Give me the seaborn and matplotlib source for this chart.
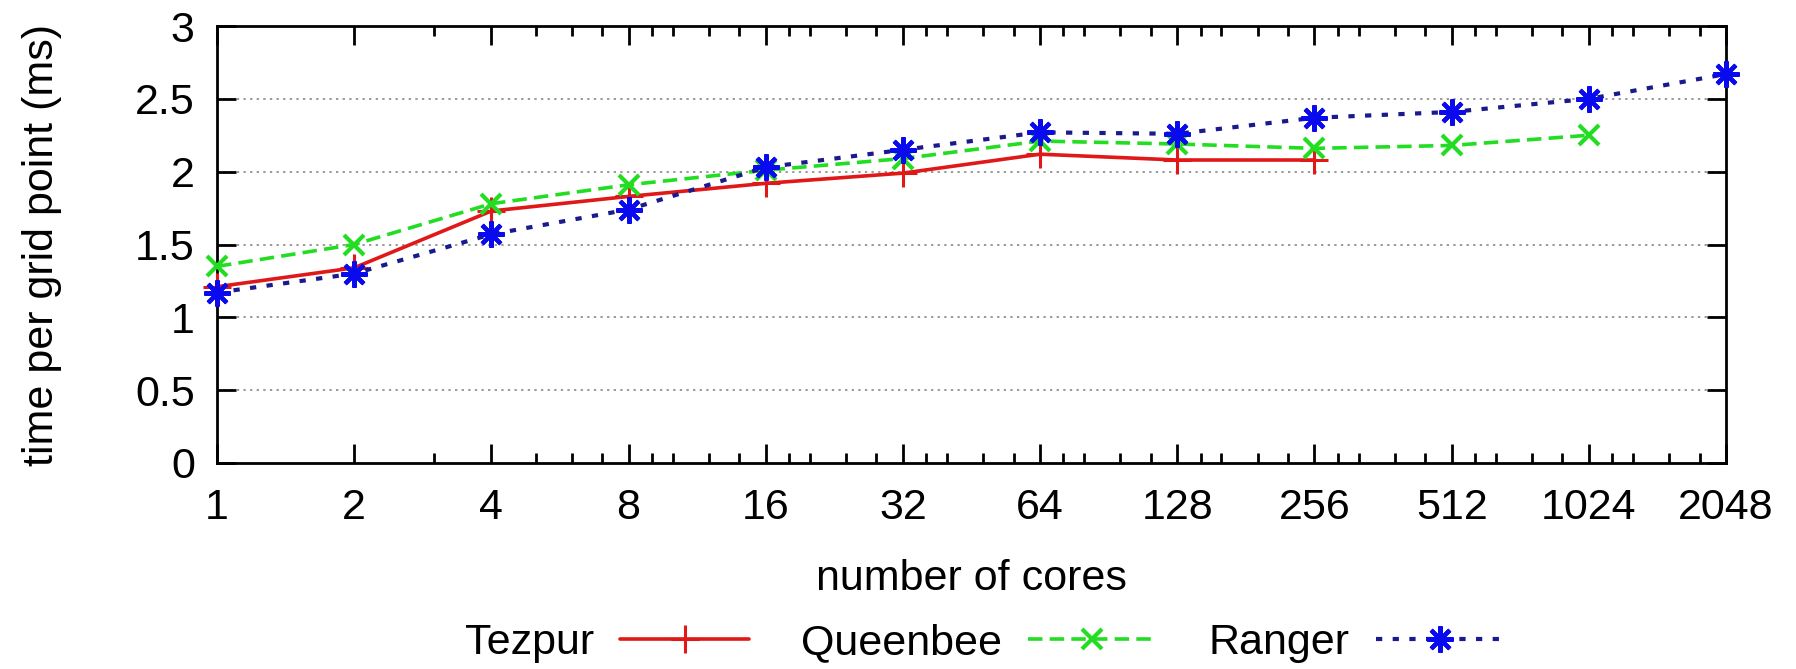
import numpy as np
import pandas as pd
import seaborn as sns
import matplotlib
matplotlib.use("Agg")
from matplotlib import pyplot as plt
from matplotlib.ticker import FixedLocator, FixedFormatter, NullFormatter

# values
tezpur_cores = [1, 2, 4, 8, 16, 32, 64, 128, 256]
tezpur_time = [1.21, 1.34, 1.73, 1.83, 1.92, 1.99, 2.12, 2.08, 2.08]

queenbee_cores = [1, 2, 4, 8, 16, 32, 64, 128, 256, 512, 1024]
queenbee_time = [1.35, 1.50, 1.78, 1.91, 2.01, 2.09, 2.21, 2.19, 2.16, 2.18, 2.25]

ranger_cores = [1, 2, 4, 8, 16, 32, 64, 128, 256, 512, 1024, 2048]
ranger_time = [1.17, 1.30, 1.57, 1.74, 2.03, 2.15, 2.27, 2.26, 2.37, 2.41, 2.50, 2.67]

x_ticks = [1, 2, 4, 8, 16, 32, 64, 128, 256, 512, 1024, 2048]
y_ticks = [0, 0.5, 1, 1.5, 2, 2.5, 3]
y_ticklabels = ["0", "0.5", "1", "1.5", "2", "2.5", "3"]

sns.set_style("ticks", {"text.color": "black", "axes.labelcolor": "black",
                        "xtick.color": "black", "ytick.color": "black"})
plt.rcParams['font.family'] = ['Liberation Sans', 'DejaVu Sans']
FS = 31

W, H = 1796, 669
fig = plt.figure(figsize=(W / 100, H / 100), dpi=100)
ax = fig.add_axes([217 / W, (H - 463) / H, (1726 - 217) / W, (463 - 26) / H])

df = pd.concat([
    pd.DataFrame({"cores": tezpur_cores, "time": tezpur_time, "machine": "Tezpur"}),
    pd.DataFrame({"cores": queenbee_cores, "time": queenbee_time, "machine": "Queenbee"}),
    pd.DataFrame({"cores": ranger_cores, "time": ranger_time, "machine": "Ranger"}),
])

# grid first so it sits under the lines
for yv in y_ticks[1:-1]:
    ax.axhline(yv, color="#9a9a9a", linestyle=(0, (1.2, 2.2)), linewidth=1.4, zorder=0)

styles = {
    "Tezpur": dict(color="#e01818", linestyle="-", marker="+", markersize=20,
                   markeredgewidth=2.2, markeredgecolor="#e01818", linewidth=2.6),
    "Queenbee": dict(color="#22dd22", linestyle=(0, (4, 2)), marker="x", markersize=15,
                     markeredgewidth=3, markeredgecolor="#22dd22", linewidth=2.6),
    "Ranger": dict(color="#1a1a8c", linestyle=(0, (1.5, 2.5)), marker=(8, 2, 0), markersize=19,
                   markeredgewidth=3, markeredgecolor="#0a0aee", linewidth=3),
}

for name in ["Tezpur", "Queenbee", "Ranger"]:
    sub = df[df["machine"] == name]
    sns.lineplot(data=sub, x="cores", y="time", ax=ax, label=name, clip_on=False,
                 zorder=3, **styles[name])

ax.set_xscale("log", base=2)
ax.set_xlim(1, 2048)
ax.set_ylim(0, 3)

# gnuplot-like log2 minor ticks
minor = [3, 5, 6, 7]
for k in range(3, 11):
    b = 2 ** k
    minor += [b * f for f in (1.125, 1.25, 1.5, 1.75)]
ax.xaxis.set_major_locator(FixedLocator(x_ticks))
ax.xaxis.set_major_formatter(FixedFormatter([str(v) for v in x_ticks]))
ax.xaxis.set_minor_locator(FixedLocator(minor))
ax.xaxis.set_minor_formatter(NullFormatter())
ax.yaxis.set_major_locator(FixedLocator(y_ticks))
ax.yaxis.set_major_formatter(FixedFormatter(y_ticklabels))

ax.tick_params(axis="both", which="major", direction="in", length=14, width=2,
               labelsize=FS, top=True, right=True, color="black", labelcolor="black")
ax.tick_params(axis="x", which="minor", direction="in", length=7.5, width=2,
               top=True, bottom=True, color="black")
ax.tick_params(axis="x", which="major", pad=18)
ax.tick_params(axis="y", which="major", pad=16)

for sp in ax.spines.values():
    sp.set_visible(True)
    sp.set_linewidth(2)
    sp.set_color("black")

ax.set_xlabel("number of cores", fontsize=FS, labelpad=22, color="black")
ax.set_ylabel("time per grid point (ms)", fontsize=FS, color="black")
ax.yaxis.set_label_coords((62 - 217) / 1509, 0.5)

ax.get_legend().remove()
handles, labels = ax.get_legend_handles_labels()
leg = fig.legend(handles, labels, loc="center", bbox_to_anchor=(985 / W, (H - 643) / H),
                 ncol=3, frameon=False, markerfirst=False, fontsize=FS,
                 handlelength=3.0, handletextpad=0.6, columnspacing=1.2, borderpad=0)
for t in leg.get_texts():
    t.set_color("black")

fig.savefig("out.png", dpi=100)
